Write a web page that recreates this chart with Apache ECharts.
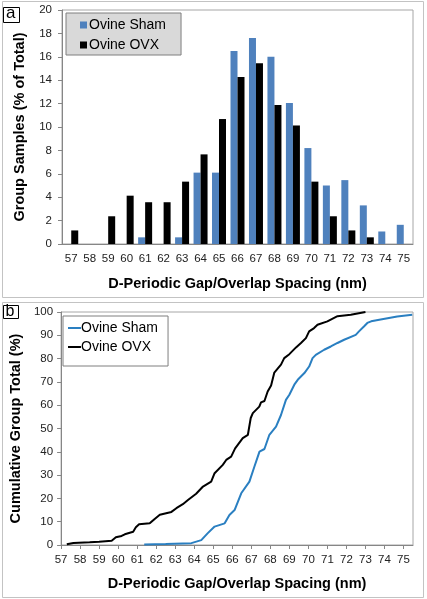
<!DOCTYPE html>
<html>
<head>
<meta charset="utf-8">
<script src="https://cdn.jsdelivr.net/npm/echarts@6/dist/echarts.min.js"></script>
<style>html,body{margin:0;padding:0;background:#fff}#c{width:427px;height:599px}</style>
</head>
<body>
<div id="c"></div>
<script>
// Panel a: histogram
const categories = ['57','58','59','60','61','62','63','64','65','66','67','68','69','70','71','72','73','74','75'];
const shamPct = [0,0,0,0,0.57,0,0.57,6.1,6.1,16.5,17.6,16.0,12.05,8.2,5.0,5.46,3.3,1.07,1.64];
const ovxPct  = [1.16,0,2.37,4.13,3.57,3.57,5.33,7.66,10.68,14.28,15.45,11.88,10.13,5.33,2.37,1.16,0.57,0,0];
const yTicksA = {min:0, max:20, interval:2};

// Panel b: cumulative distribution (x = spacing nm, y = cumulative %)
const ovxCumX = [57.30,57.65,58.5,59.0,59.66,59.88,60.18,60.35,60.79,60.93,61.1,61.66,61.92,62.19,62.8,63.06,63.4,63.67,64.1,64.46,64.89,65.07,65.5,65.68,65.94,66.15,66.55,66.82,66.97,67.08,67.42,67.51,67.69,67.86,68.04,68.21,68.56,68.73,69.0,69.35,69.61,69.87,70.04,70.3,70.48,71.0,71.53,72.23,73.0];
const ovxCumY = [0.3,0.9,1.15,1.4,1.85,3.3,3.9,4.6,5.7,7.6,8.9,9.3,11.2,13.0,14.2,15.8,17.5,19.3,22.0,25.1,27.2,30.8,34.4,36.5,37.9,41.5,45.9,47.3,54.5,56.6,59.4,61.2,61.8,65.9,68.5,74.0,77.4,80.2,81.9,84.8,86.7,88.8,91.7,93.1,94.5,96.0,98.2,98.8,100];
const shamCumX = [61.37,62.5,63.85,64.37,64.7,65.07,65.6,65.85,66.12,66.47,66.9,67.16,67.43,67.69,67.95,68.3,68.56,68.82,69.0,69.26,69.44,69.79,70.04,70.22,70.39,70.83,71.18,71.53,71.88,72.49,72.66,72.92,73.1,73.3,73.8,74.67,75.46];
const shamCumY = [0.2,0.4,0.8,2.1,5.0,7.9,9.3,12.9,15.0,22.2,27.2,33.6,40.1,41.2,47.3,50.8,55.8,62.3,64.5,68.8,70.9,73.8,76.6,80.2,81.6,83.8,85.2,86.7,88.1,90.2,91.7,93.8,95.3,96.0,96.8,98.1,98.8];
const xTicksB = {min:57, max:75.5, interval:1};
const yTicksB = {min:0, max:100, interval:10};

const FONT = '"Liberation Sans", Arial, sans-serif';
const SHAM_BAR = '#4f81bd';
const SHAM_LINE = '#2a7fc1';
const axisGray = '#868686';
const tickText = {fontFamily: FONT, fontSize: 11.5, color: '#222'};
const titleText = {fontFamily: FONT, fontSize: 14.5, fontWeight: 'bold', color: '#000'};

const chart = echarts.init(document.getElementById('c'), null, {renderer: 'canvas'});

const option = {
  backgroundColor: '#fff',
  animation: false,
  textStyle: {fontFamily: FONT},
  graphic: [
    {type:'rect', shape:{x:2.5, y:1.5, width:421, height:296}, style:{fill:'none', stroke:'#c3c3c3', lineWidth:1}, z:-1},
    {type:'rect', shape:{x:2.5, y:302.5, width:421, height:295}, style:{fill:'none', stroke:'#c3c3c3', lineWidth:1}, z:-1},
    {type:'rect', shape:{x:3.5, y:7.5, width:16, height:15}, style:{fill:'#fff', stroke:'#000', lineWidth:1}},
    {type:'text', left:6, top:5, style:{text:'a', font:'17px ' + FONT, fill:'#000'}},
    {type:'rect', shape:{x:3.5, y:305.5, width:15, height:13}, style:{fill:'#fff', stroke:'#000', lineWidth:1}},
    {type:'text', left:5.5, top:303.5, style:{text:'b', font:'16px ' + FONT, fill:'#000'}}
  ],
  grid: [
    {left:62, top:10, width:351, height:234, show:true, borderColor:'#a6a6a6', borderWidth:1, backgroundColor:'transparent'},
    {left:58, top:312, width:355, height:233, show:true, borderColor:'#a6a6a6', borderWidth:1, backgroundColor:'transparent'}
  ],
  legend: [
    {
      orient:'vertical', left:66, top:13, selectedMode:false,
      backgroundColor:'#d9d9d9', borderColor:'#7f7f7f', borderWidth:1,
      padding:[5,15,3,14], itemGap:6, itemWidth:7, itemHeight:7,
      textStyle:{fontFamily:FONT, fontSize:14, color:'#000', padding:[0,0,0,-3]},
      data:[
        {name:'Ovine Sham', icon:'rect', itemStyle:{color:SHAM_BAR, borderWidth:0}},
        {name:'Ovine OVX', icon:'rect', itemStyle:{color:'#000', borderWidth:0}}
      ]
    },
    {
      orient:'vertical', left:63, top:316, selectedMode:false,
      backgroundColor:'#fff', borderColor:'#7f7f7f', borderWidth:1,
      padding:[5,10,12,5], itemGap:5, itemWidth:13, itemHeight:2,
      textStyle:{fontFamily:FONT, fontSize:14, color:'#000', padding:[0,0,0,-5]},
      data:[
        {name:'Ovine Sham', icon:'rect', itemStyle:{color:SHAM_LINE, borderWidth:0}},
        {name:'Ovine OVX', icon:'rect', itemStyle:{color:'#000', borderWidth:0}}
      ]
    }
  ],
  xAxis: [
    {
      gridIndex:0, type:'category', data:categories, boundaryGap:true,
      axisLine:{lineStyle:{color:axisGray}}, axisTick:{length:4, lineStyle:{color:axisGray}},
      axisLabel:Object.assign({margin:9, interval:0}, tickText),
      name:'D-Periodic Gap/Overlap Spacing (nm)', nameLocation:'middle', nameGap:32.5, nameTextStyle:titleText,
      splitLine:{show:false}
    },
    {
      gridIndex:1, type:'value', min:xTicksB.min, max:xTicksB.max, interval:xTicksB.interval,
      axisLine:{onZero:false, lineStyle:{color:axisGray}}, axisTick:{length:4, lineStyle:{color:axisGray}},
      axisLabel:Object.assign({margin:9, showMaxLabel:false, formatter:function(v){return Number.isInteger(v)?String(v):'';}}, tickText),
      name:'D-Periodic Gap/Overlap Spacing (nm)', nameLocation:'middle', nameGap:31, nameTextStyle:titleText,
      splitLine:{show:false}
    }
  ],
  yAxis: [
    {
      gridIndex:0, type:'value', min:yTicksA.min, max:yTicksA.max, interval:yTicksA.interval,
      axisLine:{show:true, lineStyle:{color:axisGray}}, axisTick:{show:true, length:4, lineStyle:{color:axisGray}},
      axisLabel:Object.assign({margin:10}, tickText),
      name:'Group Samples (% of Total)', nameLocation:'middle', nameGap:35, nameTextStyle:titleText,
      splitLine:{show:false}
    },
    {
      gridIndex:1, type:'value', min:yTicksB.min, max:yTicksB.max, interval:yTicksB.interval,
      axisLine:{show:true, lineStyle:{color:axisGray}}, axisTick:{show:true, length:4, lineStyle:{color:axisGray}},
      axisLabel:Object.assign({margin:8}, tickText),
      name:'Cumulative Group Total (%)', nameLocation:'middle', nameGap:32, nameTextStyle:titleText,
      splitLine:{show:false}
    }
  ],
  series: [
    {name:'Ovine Sham', type:'bar', xAxisIndex:0, yAxisIndex:0, data:shamPct, barWidth:7, barGap:'0%',
     itemStyle:{color:SHAM_BAR, borderWidth:0}},
    {name:'Ovine OVX', type:'bar', xAxisIndex:0, yAxisIndex:0, data:ovxPct, barWidth:7, barGap:'0%',
     itemStyle:{color:'#000', borderWidth:0}},
    {name:'Ovine Sham', type:'line', xAxisIndex:1, yAxisIndex:1, showSymbol:false, symbol:'none',
     data:shamCumX.map((x,i)=>[x, shamCumY[i]]), lineStyle:{color:SHAM_LINE, width:2}, itemStyle:{color:SHAM_LINE}},
    {name:'Ovine OVX', type:'line', xAxisIndex:1, yAxisIndex:1, showSymbol:false, symbol:'none',
     data:ovxCumX.map((x,i)=>[x, ovxCumY[i]]), lineStyle:{color:'#000', width:2}, itemStyle:{color:'#000'}}
  ]
};
chart.setOption(option);
</script>
</body>
</html>
